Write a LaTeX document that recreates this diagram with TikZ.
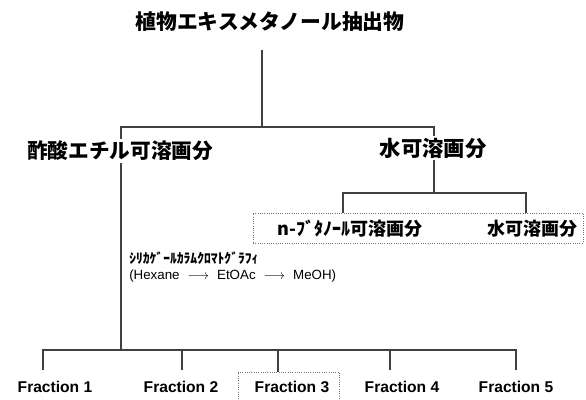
\documentclass[tikz,border=0pt]{standalone}
\usepackage{fontspec}
\setmainfont{Liberation Sans}
\newfontfamily\jp{Noto Sans CJK JP}
\begin{document}
\begin{tikzpicture}[x=0.75pt,y=-0.75pt,
  ln/.style={draw=black!75,line width=0.8pt},
  dbox/.style={draw=black!55,densely dotted,line width=0.7pt,inner sep=0pt},
  jhead/.style={font=\jp\bfseries\fontsize{15.5pt}{18pt}\selectfont,inner sep=1.5pt},
  jbox/.style={font=\jp\bfseries\fontsize{13.5pt}{16pt}\selectfont,inner sep=1pt},
  frac/.style={font=\bfseries\fontsize{11.7pt}{14pt}\selectfont,inner sep=1pt}]
\useasboundingbox (0,0) rectangle (586,400);

% texts
\node[jhead,font=\jp\bfseries\fontsize{15.6pt}{18pt}\selectfont] (title) at (270,22) {植物エキスメタノール抽出物};
\node[jhead] (ea) at (120,151) {酢酸エチル可溶画分};
\node[jhead,font=\jp\bfseries\fontsize{16pt}{18pt}\selectfont] (aq) at (433,148) {水可溶画分};

\node[dbox,minimum width=247.5pt,minimum height=22.5pt] (box) at (418,228) {};
\node[jbox] (bu) at (350,229) {n-ﾌﾞﾀﾉｰﾙ可溶画分};
\node[jbox] (aq2) at (532,229) {水可溶画分};

\node[anchor=west,inner sep=0pt,font=\jp\bfseries\fontsize{10.2pt}{12pt}\selectfont] (silica) at (129,258) {ｼﾘｶｹﾞｰﾙｶﾗﾑｸﾛﾏﾄｸﾞﾗﾌｨ};
\node[anchor=west,inner sep=0pt,font=\fontsize{10pt}{12pt}\selectfont] (elu) at (129,276) {(Hexane\hspace{6pt}$\longrightarrow$\hspace{6pt}EtOAc\hspace{6pt}$\longrightarrow$\hspace{6pt}MeOH)};

\node[dbox,minimum width=75.75pt,minimum height=22.5pt] (f3box) at (288.5,387) {};
\node[frac] (f1) at (55,387) {Fraction 1};
\node[frac] (f2) at (181,387) {Fraction 2};
\node[frac] (f3) at (292,387) {Fraction 3};
\node[frac] (f4) at (402,387) {Fraction 4};
\node[frac] (f5) at (516,387) {Fraction 5};

% coordinates
\coordinate (t0) at (262,50);
\coordinate (j1) at (262,127);
\coordinate (j2) at (434,193);
\coordinate (bl) at (343,213);
\coordinate (br) at (526,213);
\coordinate (j3) at (121,350);
\coordinate (d1) at (43,370);
\coordinate (d2) at (182,370);
\coordinate (d3) at (278,372);
\coordinate (d4) at (390,370);
\coordinate (d5) at (516,370);

% connectors
\draw[ln] (t0) -- (j1);
\draw[ln] (ea.north -| j3) |- (j1) -| (aq.north -| j2);
\draw[ln] (aq.south -| j2) -- (j2);
\draw[ln] (bl) |- (j2) -| (br);
\draw[ln] (ea.south -| j3) -- (j3);
\draw[ln] (d1) |- (j3) -| (d5);
\draw[ln] (d2) -- (d2 |- j3);
\draw[ln] (d3) -- (d3 |- j3);
\draw[ln] (d4) -- (d4 |- j3);
\end{tikzpicture}
\end{document}
